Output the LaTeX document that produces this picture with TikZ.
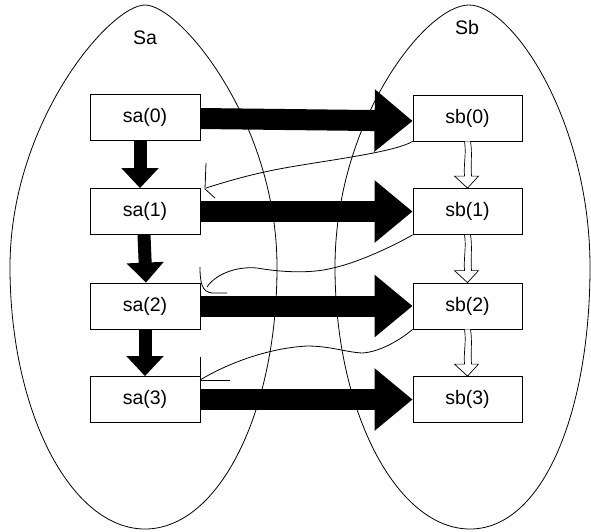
\documentclass[tikz,border=0pt]{standalone}
\usepackage{fontspec}
\setmainfont{Liberation Sans}
\usetikzlibrary{arrows.meta,calc}
\begin{document}
\begin{tikzpicture}[x=1pt,y=-1pt,
  box/.style={draw,line width=0.8pt,fill=white,minimum width=110pt,minimum height=46pt,inner sep=0pt,font=\fontsize{19.5}{22}\selectfont},
  thickarrow/.style={line width=21pt,-{Triangle[width=60pt,length=38pt]}},
  downarrow/.style={line width=13pt,-{Triangle[width=36pt,length=20pt]}},
  hollow/.style={line width=0.7pt,fill=white,line join=miter},
  thinline/.style={line width=0.8pt},
  lbl/.style={font=\fontsize{19.5}{22}\selectfont}]
\useasboundingbox (0,0) rectangle (591,531);
% containers
\draw[thinline] (145,5) .. controls (110,5) and (10,122) .. (10,267)
  .. controls (10,412) and (71,529) .. (145,529)
  .. controls (219,529) and (277,412) .. (277,267)
  .. controls (277,122) and (180,5) .. (145,5) -- cycle;
\draw[thinline] (469,5) .. controls (425,5) and (335,122) .. (335,267)
  .. controls (335,412) and (397,529) .. (470,529)
  .. controls (543,529) and (590,412) .. (590,267)
  .. controls (590,122) and (513,5) .. (469,5) -- cycle;
\node[lbl] (la) at (145,38) {Sa};
\node[lbl] (lb) at (467,28) {Sb};
% boxes
\node[box] (sa0) at (145,117.5) {sa(0)};
\node[box] (sa1) at (145,211.5) {sa(1)};
\node[box] (sa2) at (145,306) {sa(2)};
\node[box] (sa3) at (145,399.5) {sa(3)};
\node[box,minimum width=109pt] (sb0) at (467.5,118) {sb(0)};
\node[box,minimum width=109pt] (sb1) at (467.5,211.5) {sb(1)};
\node[box,minimum width=109pt] (sb2) at (467.5,306) {sb(2)};
\node[box,minimum width=109pt] (sb3) at (467.5,399.5) {sb(3)};
% thick horizontal arrows
\draw[thickarrow] ($(sa0.east)+(0,1)$) -- ($(sb0.west)+(0,3)$);
\draw[thickarrow] (sa1.east) -- (sb1.west);
\draw[thickarrow] (sa2.east) -- (sb2.west);
\draw[thickarrow] (sa3.east) -- (sb3.west);
% thick vertical arrows
\draw[downarrow] ($(sa0.south)+(-5,0)$) -- ($(sa1.north)+(-5,0)$);
\draw[downarrow] ($(sa1.south)+(-1,0)$) -- ($(sa2.north)+(1,0)$);
\draw[downarrow] ($(sa2.south)+(0,0)$) -- ($(sa3.north)+(0,0)$);
% hollow arrows
\foreach \u/\v in {sb0/sb1,sb1/sb2,sb2/sb3}{
  \draw[hollow] ($(\u.south)+(-3,0)$)
    .. controls ($(\u.south)+(-1,12)$) and ($(\v.north)+(-4,-24)$) .. ($(\v.north)+(-3,-12)$)
    -- ++(-10,0) -- (\v.north) -- ($(\v.north)+(11,-12)$) -- ++(-7,0)
    .. controls ($(\v.north)+(3,-24)$) and ($(\u.south)+(5,12)$) .. ($(\u.south)+(3,0)$);
}
% thin return curves
\coordinate (e1) at (206,188);
\draw[thinline] (sb0.south west) .. controls (395,152) and (330,160) .. (290,167)
  .. controls (255,173) and (228,181) .. (e1);
\draw[thinline] (206,163) -- (205,189) -- (215,198);
\coordinate (e2) at (207,287);
\draw[thinline] (sb1.south west) .. controls (395,245) and (360,262) .. (333,268)
  .. controls (310,274) and (280,272) .. (257,268)
  .. controls (235,266) and (215,275) .. (e2);
\draw[thinline] (200,267) .. controls (200,283) and (202,292) .. (212,293) -- (227,293);
\coordinate (e3) at (200,380);
\draw[thinline] (sb2.south west) .. controls (400,340) and (380,352) .. (362,353)
  .. controls (345,352) and (330,346) .. (307,346)
  .. controls (270,348) and (230,362) .. (e3);
\draw[thinline] (200,357) -- (e3) -- (230,380);
\end{tikzpicture}
\end{document}
